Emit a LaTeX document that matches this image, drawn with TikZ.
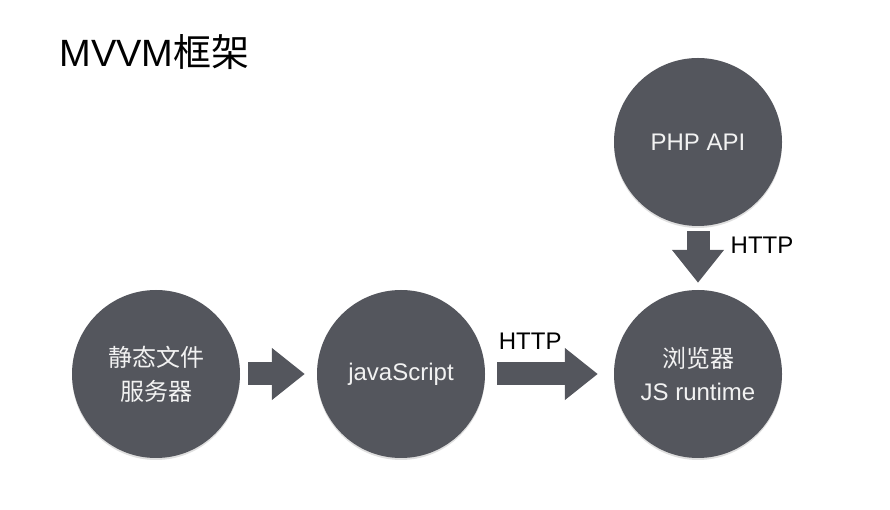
\documentclass[tikz,border=0pt]{standalone}
\usepackage{fontspec}
\setmainfont{Liberation Sans}
\newfontfamily\cjk{Noto Sans CJK SC}
\usetikzlibrary{arrows.meta, shadows}
\definecolor{circgray}{HTML}{54565D}
\definecolor{txtgray}{HTML}{F2F2F2}

\begin{document}
\begin{tikzpicture}[x=1pt, y=1pt,
        server/.style={circle, fill=circgray, minimum size=168pt, inner sep=0pt,
            text=txtgray, align=center, font=\fontsize{24}{33}\selectfont,
            drop shadow={opacity=0.25, shadow xshift=0pt, shadow yshift=-2pt}},
        fatarrow/.style={draw=circgray, line width=23pt, -{Triangle[length=33pt, width=50pt]}},
        lbl/.style={font=\fontsize{24}{28}\selectfont, text=black}]
    \useasboundingbox (0,0) rectangle (890,510);

    \node[anchor=base west, font=\fontsize{38}{44}\selectfont] (title) at (56,443) {MVVM{\cjk 框架}};

    % servers
    \node[server, font=\cjk\fontsize{24}{34}\selectfont] (static) at (156,136) {静态文件\\服务器};
    \node[server] (js) at (401,136) {javaScript};
    \node[server] (browser) at (698,136) {{\cjk 浏览器}\\JS runtime};
    \node[server] (api) at (698,368) {PHP API};

    % connections
    \draw[fatarrow, shorten <=8pt, shorten >=12pt] (static) -- (js);
    \draw[fatarrow, shorten <=12pt, shorten >=16pt] (js) -- (browser)
        node[lbl, pos=0.35, yshift=33pt] (http1) {HTTP};
    \draw[fatarrow, shorten <=5pt, shorten >=7pt] (api) -- (browser)
        node[lbl, pos=0.3, xshift=64pt] (http2) {HTTP};
\end{tikzpicture}
\end{document}
